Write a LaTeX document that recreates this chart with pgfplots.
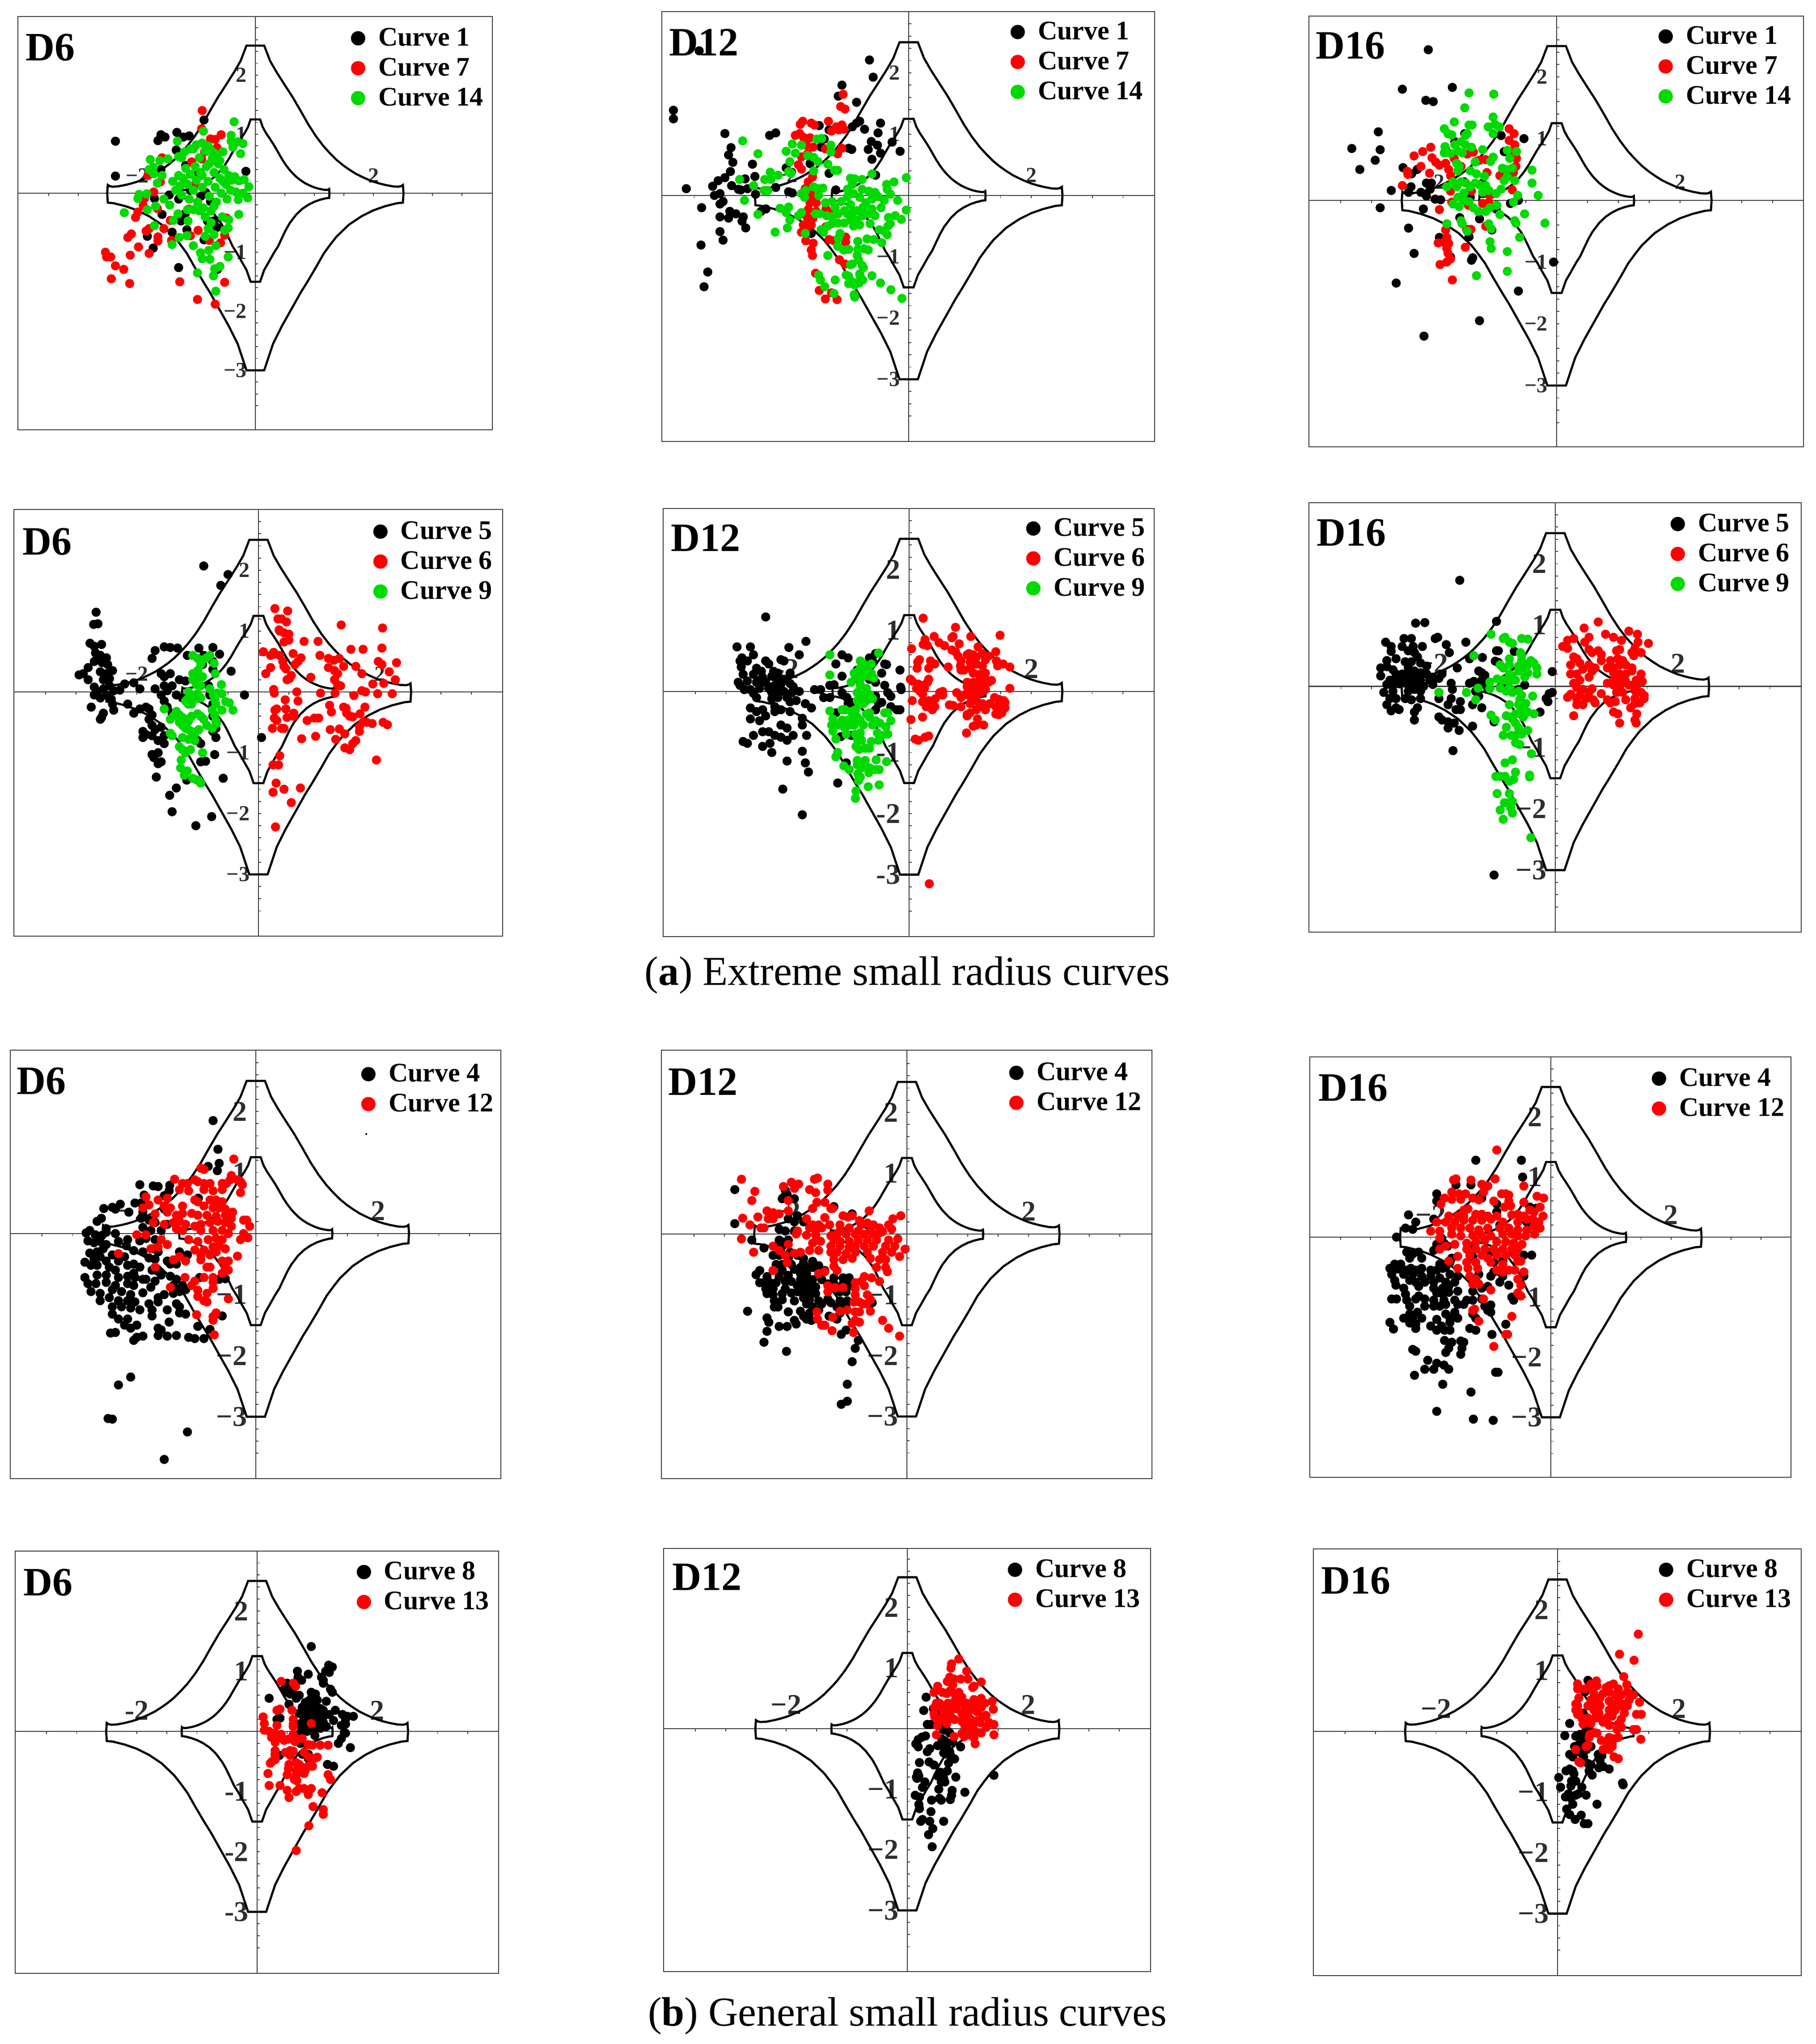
\documentclass[border=0pt]{standalone}
\usepackage{fontspec}
\setmainfont{Liberation Serif}
\usepackage{pgfplots}
\usepackage{pgfplotstable}
\pgfplotsset{compat=1.18}

\definecolor{cgreen}{RGB}{0,218,0}
\definecolor{cred}{RGB}{255,0,0}
\definecolor{caxis}{RGB}{60,60,60}

% right half of the two boundary curves, mirrored for the left half
\pgfplotstableread{
0 2.5
0.15 2.5
0.25 2.24
0.36 2.05
0.5 1.83
0.63 1.63
0.77 1.39
0.9 1.16
1.03 0.96
1.16 0.79
1.27 0.67
1.38 0.56
1.49 0.47
1.59 0.40
1.7 0.33
1.8 0.28
1.9 0.235
2 0.195
2.1 0.165
2.2 0.14
2.33 0.115
2.42 0.11
2.47 0.12
2.5 0.14
2.51 0
2.5 -0.16
2.4 -0.17
2.2 -0.22
2 -0.29
1.8 -0.39
1.59 -0.53
1.38 -0.73
1.27 -0.87
1.16 -1.02
1.03 -1.25
0.87 -1.52
0.77 -1.68
0.63 -1.93
0.45 -2.25
0.3 -2.55
0.15 -3
0 -3
}\outercurve
\pgfplotstableread{
0 1.25
0.08 1.25
0.125 1.12
0.18 1.02
0.25 0.915
0.315 0.815
0.385 0.695
0.45 0.58
0.515 0.48
0.58 0.395
0.635 0.335
0.69 0.28
0.745 0.235
0.795 0.2
0.85 0.165
0.9 0.14
0.95 0.118
1 0.098
1.05 0.082
1.1 0.07
1.165 0.058
1.21 0.055
1.235 0.06
1.25 0.07
1.255 0
1.25 -0.08
1.2 -0.085
1.1 -0.11
1 -0.145
0.9 -0.195
0.795 -0.265
0.69 -0.365
0.58 -0.51
0.515 -0.625
0.45 -0.76
0.385 -0.9
0.315 -1.01
0.225 -1.17
0.15 -1.3
0.08 -1.5
0 -1.5
}\innercurve

\tikzset{tl/.style={inner sep=0pt,text=black!82,font=\fontsize{#1}{#1}\selectfont\bfseries}}

\pgfplotsset{
  bk/.style={only marks,mark=*,mark size=2.35pt,color=black},
  rd/.style={only marks,mark=*,mark size=2.35pt,color=cred},
  gr/.style={only marks,mark=*,mark size=2.35pt,color=cgreen},
  dotlegend/.style={legend image code/.code={\fill[##1] (0pt,0pt) circle (3.8pt);}},
  % left, top, right, bottom, centre x, centre y, pixels per unit (reference pixels)
  panel/.code n args={7}{%
    \pgfmathsetmacro\pxa{(#1-#5)/#7}%
    \pgfmathsetmacro\pxb{(#3-#5)/#7}%
    \pgfmathsetmacro\pya{(#6-#4)/#7}%
    \pgfmathsetmacro\pyb{(#6-#2)/#7}%
    \pgfmathsetmacro\pw{(#3-#1)*0.25}%
    \pgfmathsetmacro\ph{(#4-#2)*0.25}%
    \pgfmathsetmacro\pl{#1*0.25}%
    \pgfmathsetmacro\pb{(4570-#4)*0.25}%
    \edef\tmp{\noexpand\pgfplotsset{xmin=\pxa,xmax=\pxb,ymin=\pya,ymax=\pyb,
      width=\pw pt,height=\ph pt,at={(\pl pt,\pb pt)}}}\tmp
    \gdef\pL{#1}\gdef\pT{#2}\gdef\pR{#3}\gdef\pB{#4}%
  },
  % legend marker centre x, top of the first row
  lg/.code 2 args={%
    \pgfmathsetmacro\lx{(#1-21-\pL)/(\pR-\pL)}%
    \pgfmathsetmacro\ly{(\pB-#2)/(\pB-\pT)}%
    \edef\tmp{\noexpand\pgfplotsset{legend style={at={(\lx,\ly)},anchor=north west}}}\tmp
  },
  every axis/.append style={
    scale only axis,anchor=south west,clip=false,
    axis lines=center,axis line style={-,color=caxis,line width=0.55pt},
    xlabel={},ylabel={},
    xtick={-3.5,-3,-2.5,-2,-1.5,-1,-0.5,0.5,1,1.5,2,2.5,3,3.5},
    ytick={-3.6,-3.4,-3.2,-3,-2.8,-2.6,-2.4,-2.2,-2,-1.8,-1.6,-1.4,-1.2,-1,-0.8,-0.6,-0.4,-0.2,0.2,0.4,0.6,0.8,1,1.2,1.4,1.6,1.8,2,2.2,2.4,2.6,2.8},
    xticklabels={},yticklabels={},
    major tick length=1.6pt,
    tick style={color=caxis,line width=0.45pt},
    xtick style={yshift=-0.8pt},ytick style={xshift=0.8pt},
    dotlegend,
    legend cell align=left,
    legend style={draw=none,fill=none,inner sep=0pt,row sep=5.3pt,column sep=7.3pt,
      nodes={inner sep=0pt},font=\fontsize{15}{15}\selectfont\bfseries},
  },
}

% frame, tick labels and boundary curves: label size, minus sign, height of the x labels
\newcommand{\base}[3]{%
  \draw[color=caxis,line width=0.7pt] (rel axis cs:0,0) rectangle (rel axis cs:1,1);
  \node[tl=#1,anchor=east] at (axis cs:-0.14,2) {2};
  \node[tl=#1,anchor=east] at (axis cs:-0.14,1) {1};
  \node[tl=#1,anchor=east] at (axis cs:-0.14,-1) {#21};
  \node[tl=#1,anchor=east] at (axis cs:-0.14,-2) {#22};
  \node[tl=#1,anchor=east] at (axis cs:-0.14,-3) {#23};
  \node[tl=#1] at (axis cs:2,#3) {2};
  \node[tl=#1] at (axis cs:-2,#3) {#22};
  \addplot[forget plot,black,line width=1.2pt] table[x index=0,y index=1] {\outercurve};
  \addplot[forget plot,black,line width=1.2pt] table[x expr=-\thisrowno{0},y index=1] {\outercurve};
  \addplot[forget plot,black,line width=1.2pt] table[x index=0,y index=1] {\innercurve};
  \addplot[forget plot,black,line width=1.2pt] table[x expr=-\thisrowno{0},y index=1] {\innercurve};
}
\newcommand{\ttl}[3]{\node[anchor=north west,inner sep=0pt,font=\fontsize{22.5}{22.5}\selectfont\bfseries] at ({#1*0.25pt},{(4570-#2)*0.25pt}) {#3};}

\begin{document}
\begin{tikzpicture}
\path[use as bounding box] (0pt,0pt) rectangle (1015pt,1142.5pt);

% row 1
\begin{axis}[panel={40}{37}{1101}{961}{571}{432}{132},lg={805}{62}]
\base{12}{−}{0.3}
\addplot[bk] coordinates {(-2.37,.88)(-2.37,.29)(-1.65,.89)(-1.6,.99)(-1.53,.95)(-1.33,1.03)(-1.22,.95)(-1.12,.97)(-.87,1.24)(-1.34,.73)(-.16,.37)(-1.83,-.73)(-1.73,-.93)(-1.58,-.36)(-1.71,-.09)(-1.46,-.03)(-1.26,-.47)(-1.41,-.66)(-1.16,-.62)(-1.3,-1.26)(-.64,-1.29)(-.87,-.79)(-.7,-.47)(-.65,-.58)(-.81,-.47)(-1.19,-.35)(-.97,.33)(-.84,.01)(-1.1,.05)(-1.18,.47)(-.92,-.05)(-.76,-.14)(-1.6,.4)(-1.3,-.1)};
\addplot[rd] coordinates {(-.9,1.4)(-.58,.99)(-.68,.91)(-.76,.92)(-.91,1.09)(-1.58,.6)(-1.82,.3)(-1.72,.02)(-1.88,-.09)(-1.9,-.21)(-1.99,-.32)(-2.03,-.41)(-1.44,-.46)(-1.55,-.6)(-1.8,-.6)(-1.85,-.64)(-1.65,-.74)(-1.65,-.81)(-1.42,-.8)(-2.1,-.69)(-2.16,-.75)(-1.98,-.91)(-1.8,-1.02)(-2.12,-1.05)(-2.54,-1)(-2.52,-1.08)(-2.45,-1.08)(-2.37,-1.23)(-2.23,-1.29)(-2.44,-1.45)(-2.13,-1.53)(-1.28,-1.5)(-.52,-1.51)(-.98,-1.8)(-.68,-1.88)(-.97,-.63)(-1.1,-.72)(-.78,-.8)(-.59,-.84)(-.52,-.71)(-1.13,-.27)(-1.66,-.26)(-1.61,.19)(-1.08,.53)(-.91,.58)(-.65,.77)(-1.02,.14)(-.86,.7)(-.49,-.42)};
\addplot[gr] coordinates {(-.36,1.21)(-.88,1.05)(-.41,.98)(-1.32,.88)(-.21,.84)(-.25,.67)(-.3,.87)(-.41,.88)(-1.78,.57)(-1.48,.58)(-1.62,.55)(-1.73,.44)(-1.8,.4)(-1.72,.33)(-1.58,.3)(-1.66,.17)(-1.84,-.01)(-1.97,-.02)(-1.99,-.09)(-2.22,-.33)(-1.83,-.28)(-1.69,-.22)(-1.45,-.2)(-1.55,-.1)(-1.31,-.35)(-1.39,-.46)(-1.71,-.55)(-1.14,-.47)(-1.41,-.87)(-1.29,-.75)(-1.16,-.72)(-1.05,-.89)(-.93,-1.01)(-.9,-1.11)(-.79,-.97)(-.77,-1.12)(-.46,-1.08)(-.6,-1.24)(-.69,-1.28)(-.71,-1.4)(-.98,-1.35)(-.67,-1.66)(-.67,-.89)(-.85,-.73)(-.7,-.7)(-.52,-.63)(-.46,-.59)(-.45,-.45)(-.56,-.4)(-.28,-.36)(-.13,-.08)(-.29,-.11)(-.21,0)(-.11,.11)(-.19,.23)(-.28,.21)(-1.4,.2)(-1.35,.05)(-1.3,.3)(-1.28,.12)(-1.25,-.03)(-1.22,.25)(-1.18,.42)(-1.15,.15)(-1.12,-.1)(-1.1,.32)(-1.05,.05)(-1.02,.45)(-1,.22)(-.98,-.15)(-.95,.6)(-.93,.35)(-.9,.1)(-.88,-.25)(-.85,.72)(-.83,.45)(-.8,.2)(-.78,-.05)(-.75,-.3)(-.73,.6)(-.7,.35)(-.68,.1)(-.66,-.15)(-.63,.5)(-.6,.25)(-.58,0)(-.55,.7)(-.53,.4)(-.5,.15)(-.48,-.1)(-.45,.3)(-.42,.05)(-.4,.22)(-.38,.78)(-.35,.28)(-.33,.02)(-1.2,.7)(-1.1,.75)(-1,.82)(-.9,.85)(-.8,.8)(-.7,.68)(-.6,.55)(-1.3,.62)(-1.25,.6)(-.75,.72)(-.95,-.3)(-.85,-.4)(-.75,-.5)(-.7,-.22)(-.8,-.6)(-1.05,-.28)(-1.15,-.28)(-1.05,.75)(-.65,.6)(-.55,.2)(-.78,.5)(-.9,.3)};
\legend{Curve 1,Curve 7,Curve 14}
\end{axis}
\ttl{57}{75}{D6}

\begin{axis}[panel={1480}{26}{2582}{987}{2032}{437}{137},lg={2280}{48}]
\base{12}{−}{0.33}
\addplot[bk] coordinates {(-3.42,2.36)(-.64,2.21)(-.58,1.93)(-1.09,1.8)(-1.15,1.62)(-.85,1.52)(-3.84,1.39)(-3.84,1.25)(-.8,1.21)(-.85,1.18)(-.92,1.12)(-.46,1.18)(-.72,1.08)(-.5,1.02)(-1.46,1.14)(-1.3,1.07)(-2.17,1.02)(-2.27,.98)(-3,1.01)(-1.38,.92)(-.61,.88)(-.51,.82)(-.66,.75)(-.46,.69)(-.6,.59)(-.27,.87)(-.14,.72)(-.98,.77)(-.93,.75)(-1.43,.79)(-2.9,.78)(-2.94,.66)(-2.87,.54)(-2.55,.51)(-2.91,.39)(-3,.29)(-3.11,.24)(-3.2,.15)(-2.89,.16)(-2.67,.27)(-2.51,.31)(-3.63,.11)(-3.17,0)(-3.08,.03)(-2.78,.1)(-2.74,.09)(-2.63,.11)(-2.5,.02)(-2.17,.13)(-1.96,.06)(-1.9,.04)(-2,.45)(-1.61,.52)(-1.3,.36)(-.54,.33)(-1.19,.09)(-3.08,-.14)(-3.03,-.1)(-3.38,-.2)(-2.92,-.26)(-2.82,-.3)(-2.7,-.35)(-3.08,-.35)(-2.94,-.37)(-2.72,-.42)(-2.66,-.53)(-3.08,-.59)(-3.03,-.73)(-3.39,-.81)(-3.28,-1.25)(-3.34,-1.49)(-2.41,-.26)(-2.33,-.22)(-1.59,-.62)};
\addplot[rd] coordinates {(-1.07,1.65)(-1.11,1.45)(-1.04,1.41)(-1.73,1.21)(-1.77,1.16)(-1.59,1.18)(-1.54,1.15)(-1.31,1.21)(-1.18,1.12)(-1.09,1.15)(-1.14,1.07)(-1.06,1.08)(-1.26,1.05)(-1.78,1.01)(-1.85,.98)(-1.72,.95)(-1.61,.94)(-1.67,.82)(-1.56,.79)(-1.36,.76)(-1.09,.77)(-1.16,.68)(-1.75,.63)(-1.65,.68)(-1.8,.5)(-1.75,.43)(-1.57,.3)(-1.64,.22)(-1.69,.11)(-1.61,-.12)(-1.51,-.12)(-1.64,-.23)(-1.51,-.26)(-1.56,-.37)(-1.64,-.44)(-1.72,-.48)(-1.59,-.48)(-1.67,-.55)(-1.35,-.51)(-1.3,-.28)(-1.35,-.22)(-1.68,-.74)(-1.56,-.78)(-1.59,-.89)(-1.57,-.98)(-1.3,-.72)(-1.22,-.74)(-1.03,-.76)(-1.03,-.68)(-1.13,-1.05)(-1.04,-1.12)(-1.52,-1.27)(-1.46,-1.55)(-1.36,-1.69)(-1.26,-1.59)(-1.17,-1.7)(-1.7,.02)(-1.6,.03)(-1.55,-.05)(-1.75,-.6)(-1.66,-.35)};
\addplot[gr] coordinates {(-2.71,.89)(-2.46,.68)(-2,.72)(-1.9,.84)(-1.75,.82)(-1.85,.69)(-1.94,.55)(-1.65,.65)(-1.55,.62)(-1.48,.55)(-1.5,.92)(-1.42,.93)(-1.27,.82)(-1.27,.71)(-1.32,.51)(-1.21,.41)(-1.16,.41)(-1.55,.4)(-1.96,.39)(-1.92,.36)(-2.26,.38)(-2.13,.33)(-2.25,.26)(-2.35,.26)(-2.76,.26)(-2.53,.16)(-2.36,.08)(-2.3,.08)(-2.68,-.08)(-2.46,-.31)(-2.1,-.21)(-2,-.28)(-1.94,-.4)(-2.18,-.6)(-1.98,-.53)(-1.96,-.19)(-1.8,-.33)(-1.75,-.28)(-1.7,-.03)(-1.75,.03)(-1.68,.08)(-1.55,.14)(-1.48,.11)(-1.4,.12)(-1.47,.0)(-1.36,-.12)(-1.52,-.3)(-1.45,-.3)(-1.69,-.62)(-1.43,-.56)(-1.39,-.6)(-1.32,-.5)(-1.34,-.33)(-.6,.35)(-.76,.26)(-.88,.27)(-.95,.28)(-.92,.18)(-1,.1)(-.76,.1)(-.65,.07)(-.36,.18)(-.24,.22)(-.04,.29)(-.35,.1)(-.3,.02)(-.18,-.08)(-.04,-.24)(-.12,-.39)(-.22,-.33)(-.33,-.36)(-.3,-.46)(-.34,-.5)(-.4,-.58)(-.35,-.64)(-.48,-.56)(-.63,-.46)(-.55,-.33)(-.6,-.22)(-.45,-.2)(-.4,-.08)(-.5,-.02)(-.55,.05)(-.6,-.06)(-.7,-.12)(-.8,-.03)(-.9,.03)(-1,-.02)(-1.1,-.1)(-1.2,-.2)(-1.25,-.1)(-1.15,-.3)(-1.05,-.25)(-.95,-.15)(-.85,-.25)(-.75,-.2)(-.85,-.4)(-.95,-.4)(-1.05,-.45)(-1.15,-.45)(-1.25,-.35)(-1.25,-.46)(-.9,-.5)(-.8,-.48)(-.75,-.33)(-.65,-.3)(-1,-.3)(-.92,-.28)(-1.12,-.62)(-1.15,-.7)(-.83,-.75)(-.68,-.71)(-.57,-.72)(-.44,-.77)(-1.16,-.83)(-1.06,-.89)(-.98,-.88)(-.83,-.88)(-.73,-.87)(-.66,-.89)(-.84,-.98)(-.82,-1.05)(-1.32,-.98)(-.95,-1.13)(-.92,-1.12)(-.76,-1.14)(-.74,-1.18)(-.8,-1.28)(-1.02,-1.3)(-.98,-1.32)(-.79,-1.33)(-.75,-1.38)(-.6,-1.31)(-.46,-1.43)(-.92,-1.41)(-.88,-1.46)(-.98,-1.44)(-.81,-1.43)(-1.47,-1.3)(-1.44,-1.38)(-1.2,-1.38)(-1.37,-1.49)(-1.22,-1.6)(-.89,-1.62)(-.88,-1.66)(-.29,-1.54)(-.11,-1.68)};
\legend{Curve 1,Curve 7,Curve 14}
\end{axis}
\ttl{1496}{64}{D12}

\begin{axis}[panel={2927}{36}{4033}{999}{3481}{448}{138},lg={3729}{58}]
\base{12}{−}{0.3}
\addplot[bk] coordinates {(-2.08,2.44)(-2.5,1.8)(-1.69,1.83)(-2.12,1.62)(-2,1.6)(-2.89,1.11)(-3.32,.84)(-2.86,.82)(-2.94,.65)(-3.19,.5)(-2.49,.53)(-2.26,.5)(-2.35,.43)(-2.03,.28)(-2.11,.28)(-2.05,.18)(-2.36,.22)(-2.68,.16)(-2.4,.13)(-2.2,.13)(-2.11,.07)(-1.97,.02)(-1.88,.01)(-2.86,-.12)(-2.16,-.14)(-2.4,-.45)(-2.31,-.86)(-2.6,-1.34)(-2.15,-2.2)(-1.25,-1.95)(-.62,-1.47)(-.05,-1)(-1.38,-.97)(-1.36,-.93)(-1.72,-.92)(-1.42,-.59)(-1.9,-.6)(-1.05,-.48)(-1.25,-.3)(-1.57,-.28)(-.98,-.14)(-.75,-.05)(-.62,0)(-1.49,1.08)(-.9,1.05)(-.53,1)(-.85,.79)(-1.3,.63)(-1.5,.3)(-1.2,.28)(-1.4,.05)(-1.65,.95)};
\addplot[rd] coordinates {(-.77,1.16)(-.69,1.08)(-.77,.97)(-.68,.9)(-.72,.78)(-.65,.68)(-.66,.55)(-.7,.45)(-.92,.4)(-1.13,.45)(-2.31,.72)(-2.17,.79)(-2.04,.86)(-1.8,.84)(-2.02,.69)(-1.96,.62)(-1.9,.57)(-2.2,.55)(-2.42,.47)(-2.41,.42)(-2.06,.44)(-2.5,.24)(-1.8,.6)(-1.75,.5)(-1.72,.4)(-1.66,.68)(-1.55,.55)(-1.45,.75)(-1.35,.78)(-1.25,.65)(-1.15,.66)(-1.72,.15)(-1.38,.15)(-1.1,.1)(-.72,.17)(-1.9,-.15)(-1.8,-.48)(-1.78,-.6)(-1.83,-.68)(-1.75,-.7)(-1.92,-.69)(-1.78,-.78)(-1.76,-.86)(-1.72,-.95)(-1.78,-1)(-1.89,-1.04)(-1.69,-1.29)(-1.48,-.76)(-1.46,-.47)(-1.39,-.47)(-1.15,-.42)(-1.2,-.05)(-1.43,-.08)(-1.7,-.03)(-1.1,-.03)(-1.05,.1)};
\addplot[gr] coordinates {(-1.42,1.74)(-1.02,1.72)(-1.49,1.5)(-1.03,1.35)(-1.66,1.27)(-1.42,1.22)(-1.37,1.22)(-1.11,1.19)(-1,1.23)(-.93,1.19)(-1.82,1.16)(-1.03,1.08)(-1.76,1.08)(-1.7,1.06)(-1.45,1.08)(-1.48,1.05)(-1.65,.9)(-1.55,.95)(-1.48,.9)(-1.38,.86)(-1.81,.87)(-1.82,.77)(-1.72,.76)(-1.6,.8)(-1.53,.77)(-1.2,.82)(-.8,.81)(-.65,.79)(-.76,.68)(-1.03,.7)(-1.07,.63)(-1.32,.62)(-1.62,.6)(-1.58,.55)(-1.6,.48)(-.88,.52)(-.82,.5)(-.72,.52)(-.4,.49)(-1.4,.48)(-1.3,.43)(-1.17,.39)(-.8,.38)(-.85,.32)(-.68,.32)(-.4,.28)(-.3,.08)(-.63,.08)(-1.78,.22)(-1.68,.3)(-1.62,.22)(-1.55,.3)(-1.47,.28)(-1.4,.22)(-1.32,.28)(-1.25,.25)(-1.15,.24)(-1.1,.16)(-1.2,.13)(-.98,.11)(-.9,.18)(-1.5,.12)(-1.6,.05)(-1.5,0)(-1.42,-.02)(-1.68,-.06)(-1.58,-.1)(-1.35,-.12)(-1.27,-.18)(-1.15,-.18)(-1.08,-.12)(-.97,-.08)(-.92,-.23)(-.7,-.03)(-.68,-.33)(-.66,-.37)(-.52,-.22)(-.19,-.37)(-1.55,-.33)(-1.53,-.38)(-1.78,-.38)(-1.45,-.5)(-1.1,-.38)(-1.06,-.46)(-.6,-.6)(-1.08,-.67)(-1.06,-.78)(-.8,-.83)(-.8,-1.15)(-1.3,-1.22)};
\legend{Curve 1,Curve 7,Curve 14}
\end{axis}
\ttl{2942}{71}{D16}

% row 2
\begin{axis}[panel={31}{1139}{1124}{2093}{578}{1547}{136},lg={855}{1165}]
\base{12}{−}{0.3}
\addplot[bk] coordinates {(-.9,2.07)(-.5,1.93)(-.62,1.75)(-2.67,1.31)(-2.71,1.11)(-2.64,1.12)(-2.77,.8)(-2.7,.75)(-2.58,.78)(-2.68,.64)(-2.6,.6)(-2.5,.56)(-2.8,.4)(-2.7,.5)(-2.57,.48)(-2.48,.45)(-2.6,.33)(-2.5,.3)(-2.4,.35)(-2.55,.2)(-2.45,.22)(-2.95,.28)(-2.88,.3)(-2.8,.2)(-2.7,.08)(-2.65,0)(-2.55,.05)(-2.45,.1)(-2.38,.02)(-2.28,.03)(-2.2,.13)(-2.05,.15)(-1.95,.05)(-2.7,-.05)(-2.6,-.1)(-2.5,-.05)(-2.42,-.12)(-2.4,-.2)(-2.38,-.3)(-2.75,-.25)(-2.55,-.35)(-2.58,-.42)(-2.6,-.45)(-2.15,-.2)(-2.05,-.35)(-1.95,-.28)(-1.85,-.25)(-1.8,-.28)(-1.75,-.38)(-1.9,-.65)(-1.85,-.7)(-1.9,-.75)(-1.8,-.45)(-1.75,-.55)(-1.7,-.62)(-1.75,-.72)(-1.6,-.58)(-1.55,-.72)(-1.65,-.8)(-1.55,-.85)(-1.65,-1)(-1.75,-1.03)(-1.72,-1.08)(-1.65,-1.18)(-1.6,-1.15)(-1.68,-1.4)(-1.35,-1.58)(-1.46,-1.7)(-1.42,-1.97)(-1.03,-2.2)(-.77,-2.05)(-1.18,-1.45)(-1,-1.45)(-.58,-1.42)(-.72,-1.03)(-.95,-1.15)(-.87,-1.14)(-.95,-.85)(-1,-.8)(-.7,-.75)(-.7,-.6)(-.75,-.65)(-.75,-.4)(-.75,-.2)(-.8,-.05)(-.82,.1)(-.75,.37)(-.75,.5)(-.64,.62)(-.45,.34)(-1.7,.68)(-1.55,.74)(-1.45,.73)(-1.33,.72)(-1.17,.6)(-.98,.72)(-.9,.6)(-.75,.73)(-.92,.45)(-1.75,.55)(-1.6,.3)(-1.55,.25)(-1.45,.3)(-1.3,.2)(-1.2,.18)(-1.55,.1)(-1.7,.05)(-1.6,-.05)(-1.5,.02)(-1.42,.1)(-1.35,-.05)(-1.25,-.1)(-1.15,-.2)(-1.42,-.35)(-1.5,-.25)(-1.55,-.15)(-.23,-.05)(.05,-.75)};
\addplot[rd] coordinates {(.27,1.37)(.48,1.33)(.32,1.2)(.38,1.2)(.46,1.15)(.35,1)(.34,1.02)(.42,.97)(.5,.95)(.5,.85)(.42,.82)(1.36,1.1)(2.04,1.05)(.75,.83)(.98,.83)(1.52,.7)(1.72,.7)(2.03,.72)(.25,.65)(.27,.62)(.35,.6)(.57,.63)(.7,.56)(1.01,.6)(1.15,.55)(1.24,.52)(1.33,.55)(1.97,.5)(2.03,.45)(2.27,.48)(.2,.4)(.12,.3)(.2,.6)(.08,.66)(.4,.5)(.42,.42)(.45,.38)(.6,.45)(.65,.5)(1.15,.4)(1.25,.35)(1.3,.3)(1.4,.42)(1.6,.42)(1.7,.3)(2.15,.33)(.51,.22)(.47,.2)(.54,.27)(.86,.24)(1.25,.2)(1.3,.12)(1.35,.1)(2.25,.2)(2.06,.14)(1.88,.13)(.25,.04)(.26,-.02)(.63,0)(1.02,-.02)(1.26,-.02)(1.57,-.06)(1.76,0)(1.7,.02)(1.96,-.03)(2.2,-.03)(.3,-.28)(.27,-.3)(.26,-.43)(.3,-.47)(.44,-.13)(.65,-.15)(.45,-.28)(.58,-.35)(.58,-.4)(.47,-.42)(.8,-.47)(.92,-.43)(.99,-.43)(1.17,-.22)(1.2,-.33)(1.4,-.25)(1.45,-.35)(1.44,-.27)(1.55,-.41)(1.5,-.4)(1.67,-.36)(1.75,-.25)(1.87,-.52)(1.78,-.5)(1.72,-.5)(1.66,-.57)(2.05,-.5)(2.12,-.54)(.23,-.6)(.38,-.6)(.42,-.6)(.71,-.77)(.94,-.73)(1.18,-.62)(1.33,-.61)(1.66,-.65)(1.42,-.92)(1.5,-.95)(1.42,-.69)(1.27,-.78)(1.6,-.8)(1.55,-.85)(.35,-1.05)(.33,-1.2)(.24,-1.2)(.29,-1.5)(.24,-1.65)(.42,-1.6)(.69,-1.58)(.54,-1.82)(.28,-2.22)(1.94,-1.12)};
\addplot[gr] coordinates {(-1.08,.6)(-1,.55)(-.8,.6)(-.87,.55)(-.73,.47)(-.71,.3)(-.61,.12)(-.54,-.16)(-.42,-.3)(-.95,.45)(-1,.35)(-1.08,.3)(-1.08,.2)(-1,.2)(-.92,.25)(-1.02,.12)(-.95,.1)(-.8,.05)(-.74,-.05)(-.68,-.02)(-.72,-.12)(-.7,-.2)(-.76,-.3)(-.72,-.38)(-.7,-.48)(-.69,-.52)(-.76,-.6)(-1.15,0)(-1.1,-.05)(-1.15,-.1)(-1.05,-.12)(-1,-.03)(-.95,-.1)(-1.2,-.15)(-1.15,-.2)(-1.1,-.2)(-1.55,-.28)(-1.45,-.45)(-1.4,-.4)(-1.35,-.32)(-1.3,-.38)(-1.25,-.42)(-1.2,-.45)(-1.15,-.48)(-1.1,-.4)(-1,-.36)(-.95,-.4)(-.9,-.45)(-.85,-.55)(-1.3,-.5)(-1.25,-.55)(-1.2,-.6)(-1.15,-.62)(-1.1,-.65)(-1.05,-.7)(-.98,-.62)(-1.45,-.68)(-1.42,-.72)(-1.25,-.75)(-1.15,-.78)(-1.05,-.8)(-1.3,-.9)(-1.25,-.95)(-1.2,-1)(-1.12,-.95)(-.92,-1)(-1.27,-1.12)(-1.28,-1.25)(-1.17,-1.3)(-1.22,-1.37)(-1.08,-1.42)(-.99,-1.45)(-.95,-1.5)(-.48,-.18)(-.6,-.3)(-.6,-.03)};
\legend{Curve 5,Curve 6,Curve 9}
\end{axis}
\ttl{50}{1180}{D6}

\begin{axis}[panel={1483}{1137}{2581}{2094}{2033}{1546}{136.5},lg={2315}{1158}]
\base{16}{-}{0.37}
\addplot[bk] coordinates {(-2.35,1.22)(-1.69,.82)(-1.97,.72)(-2.82,.73)(-2.6,.73)(-2.55,.6)(-1.8,.6)(-2.74,.55)(-2.77,.5)(-2.65,.5)(-2.35,.5)(-2.3,.45)(-2.1,.52)(-2.05,.5)(-1.95,.3)(-2.75,.4)(-2.5,.38)(-2.42,.33)(-2.22,.33)(-2.15,.3)(-2.72,.28)(-2.55,.28)(-2.4,.23)(-2.25,.25)(-2.18,.22)(-2.8,.15)(-2.77,.1)(-2.65,.17)(-2.5,.15)(-2.45,.18)(-2.35,.15)(-2.2,.1)(-2.1,.12)(-2.05,.2)(-1.95,.13)(-1.9,.08)(-2.7,.03)(-2.6,.03)(-2.55,-.03)(-2.45,.05)(-2.3,.05)(-2.25,-.02)(-2.15,.02)(-2.05,0)(-1.92,-.02)(-1.8,0)(-2.5,-.1)(-2.25,-.12)(-2.15,-.1)(-2,-.1)(-1.95,-.17)(-1.85,-.15)(-1.7,-.2)(-1.6,-.27)(-2.6,-.27)(-2.5,-.33)(-2.4,-.3)(-2.2,-.25)(-2.1,-.3)(-1.95,-.33)(-2.35,-.4)(-2.2,-.33)(-2.6,-.45)(-2.45,-.48)(-1.75,-.44)(-2.1,-.55)(-2,-.6)(-1.75,-.55)(-1.68,-.72)(-2.55,-.72)(-2.4,-.66)(-2.3,-.66)(-2.2,-.72)(-2.1,-.75)(-2,-.8)(-1.9,-.72)(-2.72,-.82)(-2.65,-.85)(-2.4,-.9)(-2.28,-.85)(-2.25,-1)(-1.75,-.98)(-1.7,-1.17)(-2,-1.14)(-1.65,-1.32)(-2.07,-1.6)(-1.75,-2.02)(-1.17,-1.5)(-1.03,-1.17)(-1.12,-.74)(-.95,-.72)(-1.2,-.35)(-1,-.2)(-1.23,.11)(-1.3,.1)(-.55,.62)(-.65,.55)(-1.1,.6)(-.6,.5)(-.4,.45)(-.37,.44)(-1,.55)(-1.2,.45)(-1.1,.25)(-.85,.35)(-.45,.3)(-.15,.35)(-.4,.1)(-.55,.15)(-.65,.2)(-.14,.07)(-.13,.03)(-.35,-.02)(-.3,-.08)(-.55,-.08)(-.45,-.18)(-.3,-.25)(-.55,-.3)(-.5,-.2)(-.2,-.3)(-.15,-.3)(-1.1,-.02)(-1.02,-.1)(-.95,-.18)(-1.3,-.1)(-1.45,.03)(-1.55,.03)(-1.4,-.1)};
\addplot[rd] coordinates {(.23,1.2)(.76,1.05)(.72,.9)(1.01,.9)(1.49,.92)(.41,.9)(.7,.88)(.26,.85)(.82,.78)(.23,.77)(.3,.75)(.49,.8)(.58,.75)(.04,.7)(.7,.68)(.76,.65)(1.13,.73)(1.42,.65)(.8,.58)(.95,.6)(.98,.62)(1.05,.6)(1.2,.62)(1.1,.56)(.85,.5)(1.3,.58)(1.25,.52)(1.43,.5)(1.54,.45)(.17,.52)(.14,.48)(.35,.5)(.42,.45)(.84,.42)(1,.48)(1.1,.45)(1.2,.42)(1.45,.42)(1.65,.4)(.13,.38)(.32,.38)(.64,.4)(.85,.35)(.9,.35)(1,.38)(1.05,.3)(1.15,.28)(1.25,.3)(.32,.2)(.3,.15)(.05,.17)(.02,.2)(.15,.12)(.2,.1)(.95,.15)(1.05,.15)(1.15,.18)(1.25,.2)(1.3,.15)(1.35,.18)(.25,.05)(.12,.05)(.55,.0)(.18,0)(.22,-.04)(.55,-.06)(.43,-.12)(.5,-.02)(.78,-.02)(1,.05)(1.1,.07)(1.2,.1)(.95,.08)(.85,-.1)(.92,-.05)(1,-.08)(1.1,-.05)(1.17,-.02)(1.25,.03)(1.65,.05)(.05,-.15)(.22,-.17)(.32,-.15)(.28,-.25)(.42,-.25)(.38,-.3)(.66,-.22)(.72,-.23)(.85,-.25)(1,-.2)(1.1,-.15)(1.2,-.2)(1.15,-.25)(1.32,-.2)(1.4,-.1)(1.47,-.13)(1.5,-.2)(1.42,-.25)(1.55,-.15)(1.57,-.18)(1.57,-.27)(.95,-.4)(1,-.35)(1.1,-.3)(1.25,-.3)(1.42,-.37)(1.5,-.33)(1.52,-.35)(1.47,-.38)(.03,-.46)(.22,-.42)(.95,-.38)(1.12,-.45)(1.1,-.55)(1.05,-.57)(1.22,-.55)(.94,-.68)(.26,-.75)(.1,-.78)(.15,-.8)(.32,-.73)(.33,-3.15)};
\addplot[gr] coordinates {(-1.3,.6)(-.5,.63)(-.8,.5)(-.75,.45)(-.62,.45)(-.68,.42)(-.8,.38)(-.9,.3)(-.7,.35)(-.62,.3)(-.85,.32)(-.75,.25)(-.65,.25)(-1.3,.27)(-.88,.22)(-.8,.2)(-.58,.22)(-.95,.15)(-.8,.1)(-.7,.05)(-.85,-.02)(-.8,-.05)(-.7,-.02)(-.65,-.05)(-.75,-.1)(-.85,-.15)(-.7,-.15)(-.6,-.12)(-.82,-.22)(-.75,-.2)(-1.3,-.32)(-1.1,-.3)(-1.05,-.3)(-.95,-.33)(-.88,-.3)(-.7,-.37)(-.65,-.35)(-.4,-.35)(-.35,-.35)(-1.25,-.45)(-1.1,-.47)(-1,-.47)(-.95,-.47)(-.85,-.42)(-.8,-.48)(-.65,-.42)(-.55,-.48)(-.3,-.48)(-1.27,-.55)(-1.15,-.55)(-1.05,-.6)(-.98,-.55)(-.9,-.55)(-.75,-.55)(-.6,-.55)(-.48,-.52)(-.38,-.58)(-1.25,-.65)(-1.03,-.7)(-.88,-.7)(-.8,-.68)(-.52,-.68)(-.45,-.72)(-.35,-.7)(-1.2,-.78)(-.85,-.78)(-.78,-.8)(-.62,-.82)(-.5,-.8)(-.87,-.9)(-.82,-.95)(-.72,-.93)(-.65,-.93)(-1.17,-1)(-1.2,-1.07)(-.85,-1.13)(-.72,-1.13)(-.54,-1.12)(-.37,-1.15)(-.85,-1.2)(-.78,-1.25)(-.65,-1.25)(-.55,-1.28)(-.49,-1.28)(-1.07,-1.22)(-.98,-1.28)(-.84,-1.35)(-.8,-1.4)(-.66,-1.33)(-.83,-1.46)(-.67,-1.56)(-.49,-1.53)(-.87,-1.63)(-.88,-1.75)};
\legend{Curve 5,Curve 6,Curve 9}
\end{axis}
\ttl{1500}{1172}{D12}

\begin{axis}[panel={2927}{1124}{4028}{2084}{3478}{1534.5}{137},lg={3756}{1148}]
\base{16}{−}{0.37}
\addplot[bk] coordinates {(-1.56,1.73)(-2.28,1.03)(-2.13,1.04)(-.96,1.06)(-2.47,.78)(-2.35,.78)(-1.96,.78)(-1.92,.8)(-2.77,.72)(-2.68,.65)(-2.5,.65)(-2.32,.65)(-2.17,.65)(-1.78,.68)(-1.46,.72)(-.93,.58)(-.96,.58)(-.67,.57)(-2.68,.57)(-2.4,.58)(-1.73,.55)(-2.3,.55)(-2.75,.42)(-2.6,.45)(-2.25,.48)(-1.19,.47)(-.98,.41)(-.93,.39)(-1.4,.45)(-2.85,.3)(-2.75,.32)(-2.65,.27)(-2.45,.4)(-2.35,.4)(-2.2,.38)(-2.1,.33)(-1.6,.3)(-1.25,.25)(-1.2,.22)(-2.85,.17)(-2.6,.2)(-2.5,.2)(-2.4,.3)(-2.3,.25)(-2.2,.22)(-2.1,.2)(-2,.15)(-1.85,.2)(-2.7,.1)(-2.6,.12)(-2.5,.12)(-2.4,.18)(-2.3,.12)(-2.2,.1)(-2.05,.1)(-1.9,.13)(-1.7,.05)(-1.33,.08)(-1.2,.1)(-1.15,.18)(-.05,.24)(-2.75,.03)(-2.65,.02)(-2.55,.04)(-2.45,.05)(-2.35,.05)(-2.25,.03)(-2.15,0)(-2,.03)(-1.4,.05)(-1.2,.03)(-.82,.02)(-.5,.02)(-2.8,-.1)(-2.65,-.08)(-2.4,-.08)(-2.3,-.05)(-2.2,-.08)(-1.9,-.1)(-1.68,-.05)(-1.3,-.08)(-1.1,-.05)(-.9,-.02)(-.6,-.05)(-.05,-.1)(-.1,-.12)(-2.7,-.2)(-2.6,-.2)(-2.45,-.2)(-2.35,-.22)(-2.2,-.2)(-1.9,-.2)(-1.7,-.2)(-1.25,-.16)(-.15,-.2)(-.12,-.25)(-2.75,-.3)(-2.6,-.35)(-2.55,-.38)(-2.25,-.35)(-1.75,-.3)(-1.55,-.25)(-1.35,-.3)(-2.68,-.4)(-2.3,-.42)(-1.62,-.38)(-1.55,-.38)(-1.2,-.35)(-.25,-.42)(-2.3,-.55)(-1.9,-.5)(-1.85,-.55)(-1.75,-.58)(-1.65,-.6)(-1.35,-.65)(-1,-.58)(-1.75,-.68)(-1.57,-.72)(-1.67,-1.05)(-1,-3.08)};
\addplot[rd] coordinates {(.7,1.05)(.47,.95)(.82,.85)(1.2,.9)(1.34,.85)(.55,.8)(.95,.8)(1.08,.75)(1.35,.72)(1.52,.7)(.2,.75)(.3,.78)(.48,.72)(1.05,.6)(1.25,.55)(.12,.65)(.2,.62)(.55,.6)(.6,.55)(.7,.58)(.75,.52)(1.0,.58)(1.3,.62)(1.4,.55)(.3,.48)(.35,.45)(.75,.42)(.9,.42)(1.02,.45)(1.1,.42)(1.28,.5)(.25,.35)(.4,.38)(.55,.35)(.85,.3)(.95,.3)(1.05,.35)(1.15,.35)(1.25,.3)(.25,.2)(.35,.2)(.45,.28)(.6,.25)(.65,.3)(.95,.22)(1.05,.2)(1.15,.2)(1.25,.25)(1.4,.2)(.3,.05)(.4,.1)(.55,.15)(.95,.1)(1.05,.1)(1.15,.08)(1.32,.1)(1.42,.08)(.35,-.02)(.45,-.05)(.6,-.04)(.85,.05)(.95,.02)(1.05,.0)(1.2,.02)(1.32,-.02)(.25,-.13)(.4,-.15)(.55,-.1)(.75,-.12)(1,-.1)(1.1,-.1)(1.3,-.07)(1.4,-.1)(1.45,-.15)(.2,-.18)(.35,-.2)(.5,-.2)(.62,-.22)(.85,-.22)(1.15,-.22)(1.3,-.2)(1.45,-.2)(.45,-.3)(.35,-.3)(.65,-.27)(.9,-.27)(.98,-.25)(1.3,-.28)(1.38,-.27)(1.23,-.35)(.3,-.48)(.95,-.42)(1.02,-.45)(1.33,-.45)(1.3,-.55)(1.05,-.6)(1.32,-.6)};
\addplot[gr] coordinates {(-1.05,.85)(-.85,.78)(-.82,.8)(-.75,.72)(-.7,.7)(-.55,.78)(-.45,.77)(-.57,.55)(-.55,.5)(-1.33,.5)(-.75,.45)(-.55,.42)(-.4,.42)(-.35,.38)(-.9,.35)(-.85,.3)(-.75,.35)(-.6,.33)(-.55,.3)(-.45,.35)(-.3,.3)(-.75,.2)(-.7,.17)(-.6,.25)(-.45,.22)(-.3,.2)(-1.07,.07)(-.95,.12)(-.85,.1)(-.75,.08)(-.65,.1)(-.5,.15)(-.75,-.02)(-.9,-.03)(-1.07,-.04)(-1.26,-.03)(-1.45,-.1)(-1.9,-.1)(-.8,-.08)(-.7,-.1)(-.6,-.08)(-.55,-.15)(-.37,-.16)(-.58,-.22)(-.48,-.28)(-1.3,-.22)(-.6,-.3)(-.75,-.3)(-.55,-.38)(-.45,-.42)(-.35,-.45)(-.52,-.5)(-.65,-.45)(-.8,-.48)(-.72,-.5)(-.7,-.53)(-.65,-.6)(-.8,-.67)(-.6,-.68)(-.58,-.72)(-.45,-.72)(-1.05,-.47)(-.98,-.55)(-.85,-.8)(-.72,-.8)(-.65,-.8)(-.55,-.78)(-.65,-.92)(-.58,-.95)(-.39,-1.1)(-.7,-1.2)(-.82,-1.25)(-.65,-1.4)(-.42,-1.45)(-.42,-1.48)(-.97,-1.47)(-.9,-1.47)(-.82,-1.47)(-.75,-1.55)(-.68,-1.52)(-.95,-1.75)(-.75,-1.75)(-.83,-1.9)(-.78,-1.9)(-.7,-1.88)(-.73,-1.98)(-.9,-2.02)(-.7,-2.07)(-.85,-2.17)(-.4,-2.47)};
\legend{Curve 5,Curve 6,Curve 9}
\end{axis}
\ttl{2944}{1160}{D16}

\node[font=\fontsize{23}{23}\selectfont] at ({2029*0.25pt},{(4570-2180)*0.25pt}) {(\textbf{a}) Extreme small radius curves};

% row 3
\begin{axis}[panel={23}{2348}{1120}{3306}{572}{2758}{136.5},lg={828}{2378}]
\base{16}{−}{0.37}
\addplot[forget plot,only marks,mark=*,mark size=0.35pt,black] coordinates {(1.81,1.63)};
\addplot[bk] coordinates {(-.7,1.85)(-.62,1.38)(-.6,1.15)(-.78,1.1)(-.63,1.03)(-1.9,.8)(-1.68,.78)(-1.6,.77)(-1.41,.79)(-1.42,.7)(-1.83,.63)(-.94,.58)(-1.98,.5)(-1.88,.5)(-1.5,.62)(-2.22,.48)(-2.3,.4)(-2.35,.43)(-2.49,.41)(-2.08,.35)(-1.85,.35)(-1.5,.4)(-2.6,.2)(-2.53,.25)(-1.88,.25)(-1.75,.22)(-1.65,.18)(-1.45,.15)(-2.45,.08)(-2.3,.0)(-2.45,.02)(-2.72,.05)(-2.78,.01)(-2.63,-.02)(-2.52,-.03)(-1.85,.1)(-1.72,.05)(-1.55,.05)(-2.75,-.12)(-2.65,-.15)(-2.55,-.13)(-2.45,-.18)(-2.25,-.13)(-2.1,-.1)(-1.9,-.12)(-1.8,-.08)(-1.65,-.1)(-2.72,-.32)(-2.6,-.3)(-2.5,-.25)(-2.35,-.35)(-2.12,-.2)(-2,-.28)(-1.85,-.3)(-1.7,-.25)(-1.6,-.3)(-2.8,-.47)(-2.65,-.42)(-2.55,-.38)(-2.45,-.45)(-2.25,-.45)(-2.15,-.38)(-2,-.5)(-1.9,-.55)(-1.75,-.4)(-1.65,-.42)(-1.45,-.45)(-1.25,-.3)(-1.12,-.35)(-2.7,-.52)(-2.6,-.52)(-2.4,-.55)(-2.3,-.6)(-2.1,-.52)(-2,-.65)(-1.7,-.6)(-1.6,-.62)(-1.4,-.5)(-1.3,-.5)(-2.8,-.72)(-2.6,-.68)(-2.45,-.68)(-2.25,-.72)(-2.1,-.7)(-1.98,-.72)(-1.85,-.75)(-1.65,-.78)(-1.55,-.68)(-1.4,-.7)(-1.3,-.75)(-2.75,-.82)(-2.62,-.82)(-2.45,-.8)(-2.3,-.85)(-2.1,-.82)(-2,-.85)(-1.8,-.75)(-1.72,-.88)(-1.35,-.85)(-1.2,-.85)(-.92,-.72)(-.6,-.75)(-.5,-.74)(-2.7,-.95)(-2.55,-.98)(-2.35,-.92)(-2.2,-.95)(-2.05,-1)(-1.85,-.97)(-1.6,-1.05)(-1.5,-1)(-1.35,-.98)(-1.25,-.95)(-1.15,-.92)(-2.55,-1.1)(-2.4,-1.05)(-2.25,-1.1)(-2.1,-1.1)(-1.98,-1.12)(-1.75,-1.15)(-1.6,-1.12)(-1.3,-1.15)(-1.25,-1.2)(-.65,-1.32)(-2.35,-1.2)(-2.2,-1.2)(-2.05,-1.22)(-1.9,-1.25)(-1.7,-1.25)(-1.45,-1.25)(-1.25,-1.3)(-1.15,-1.32)(-.55,-1.35)(-2.35,-1.32)(-2.25,-1.4)(-2.1,-1.4)(-1.7,-1.35)(-1.42,-1.45)(-.95,-1.52)(-2.15,-1.5)(-2.05,-1.55)(-1.95,-1.5)(-1.6,-1.55)(-1.55,-1.58)(-.75,-1.57)(-2.38,-1.63)(-2.3,-1.62)(-1.95,-1.7)(-1.85,-1.68)(-1.6,-1.67)(-1.45,-1.68)(-1.3,-1.67)(-1.1,-1.7)(-1,-1.72)(-.85,-1.72)(-2,-1.75)(-2.05,-2.35)(-2.25,-2.48)(-2.42,-3.03)(-2.35,-3.04)(-1.12,-3.25)(-1.5,-3.7)};
\addplot[rd] coordinates {(-.36,1.22)(-.9,1.07)(-.85,1.05)(-.4,.95)(-.42,.88)(-1.33,.89)(-.3,.88)(-1.2,.82)(-1.12,.82)(-1,.88)(-.95,.85)(-.85,.82)(-.75,.82)(-.55,.82)(-.48,.82)(-.25,.85)(-.22,.8)(-1.25,.72)(-1.1,.7)(-.85,.72)(-.7,.7)(-.55,.72)(-.25,.67)(-1.8,.6)(-1.45,.58)(-1.6,.55)(-1,.55)(-.95,.52)(-.75,.55)(-.65,.55)(-.55,.52)(-1.75,.47)(-1.85,.42)(-1.5,.45)(-1.4,.42)(-1.2,.45)(-.85,.45)(-.7,.42)(-.6,.42)(-.5,.4)(-.38,.35)(-1.65,.32)(-1.45,.35)(-1.3,.3)(-1.2,.33)(-1.05,.33)(-.95,.3)(-.8,.3)(-.65,.28)(-.5,.3)(-.4,.25)(-.2,.22)(-.15,.22)(-1.68,.18)(-1.5,.15)(-1.35,.18)(-1.25,.2)(-1.15,.15)(-1,.12)(-.9,.15)(-.75,.18)(-.62,.2)(-.5,.18)(-.4,.12)(-.1,.12)(-1.3,.08)(-1.2,.05)(-.9,.05)(-.7,.05)(-.55,.05)(-.45,0)(-.2,0)(-1.8,-.02)(-1.95,-.02)(-1.55,-.1)(-1.45,-.18)(-1.1,-.1)(-.95,-.13)(-.78,-.1)(-.65,-.08)(-.55,-.1)(-.25,-.1)(-.13,-.07)(-1.72,-.25)(-1.6,-.22)(-1,-.27)(-.85,-.27)(-.7,-.22)(-.6,-.2)(-.5,-.25)(-.9,-.35)(-.75,-.35)(-.65,-.3)(-2.25,-.33)(-1.35,-.43)(-1.25,-.38)(-.9,-.43)(-.3,-.37)(-.55,-.45)(-.45,-.45)(-1.15,-.45)(-1.65,-.55)(-.8,-.55)(-.75,-.55)(-.5,-.55)(-.45,-.6)(-.55,-.65)(-.7,-.72)(-1.16,-.72)(-1,-.78)(-.85,-.72)(-1.4,-.88)(-1.05,-.85)(-.7,-.8)(-.7,-.9)(-.95,-.93)(-.8,-.98)(-.95,-1.03)(-.85,-1.1)(-.8,-1.12)(-.45,-1.07)(-.65,-1.3)(-.7,-1.36)(-.97,-1.33)(-.7,-1.42)(-.68,-1.66)};
\legend{Curve 4,Curve 12}
\end{axis}
\ttl{37}{2386}{D6}

\begin{axis}[panel={1479}{2348}{2576}{3306}{2028}{2759}{136},lg={2277}{2375}]
\base{16}{−}{0.37}
\addplot[bk] coordinates {(-2.83,.73)(-2.83,.17)(-2,.72)(-1.97,.65)(-2.03,.6)(-2.05,.58)(-1.85,.58)(-1.2,.45)(-.9,.33)(-1.8,.3)(-1.95,.25)(-1.85,.2)(-.65,.15)(-2.1,.08)(-2,.05)(-1.85,.05)(-1.7,.2)(-2.1,-.1)(-2.05,-.13)(-1.95,-.1)(-2.55,-.1)(-2.35,-.23)(-2.15,-.2)(-2.05,-.2)(-1.92,-.3)(-2.2,-.35)(-2.1,-.35)(-1.95,-.4)(-1.8,-.35)(-1.7,-.4)(-2.15,-.5)(-2.05,-.5)(-1.9,-.5)(-1.7,-.48)(-1.55,-.45)(-2.2,-.6)(-2.05,-.6)(-1.85,-.58)(-1.75,-.55)(-1.65,-.55)(-1.55,-.55)(-1.45,-.52)(-2.48,-.67)(-2.42,-.6)(-2.3,-.7)(-2.1,-.7)(-1.95,-.68)(-1.75,-.65)(-1.65,-.65)(-1.45,-.65)(-1.35,-.6)(-2.42,-.8)(-2.35,-.8)(-2.25,-.8)(-2.15,-.8)(-2,-.78)(-1.9,-.78)(-1.75,-.75)(-1.65,-.75)(-1.55,-.75)(-1.4,-.75)(-1.2,-.72)(-1.05,-.72)(-.95,-.72)(-2.32,-.9)(-2.2,-.9)(-2,-.9)(-1.8,-.85)(-1.7,-.85)(-1.6,-.85)(-1.5,-.87)(-1.3,-.82)(-1.2,-.82)(-1.05,-.82)(-.95,-.85)(-2.3,-.98)(-2.2,-1)(-2.05,-.98)(-1.9,-.97)(-1.8,-.95)(-1.7,-.95)(-1.6,-.97)(-1.5,-.98)(-1.1,-.95)(-1,-.95)(-2.18,-1.1)(-2.05,-1.08)(-1.85,-1.1)(-1.7,-1.05)(-1.6,-1.08)(-1.45,-1.1)(-1.3,-1.07)(-1.1,-1.1)(-.98,-1.1)(-.57,-1.13)(-2.18,-1.2)(-2.12,-1.2)(-1.65,-1.15)(-1.55,-1.2)(-1.4,-1.15)(-1.25,-1.13)(-1.15,-1.2)(-1,-1.2)(-2.62,-1.27)(-1.95,-1.28)(-1.75,-1.27)(-1.7,-1.35)(-1.6,-1.3)(-1.45,-1.25)(-1.28,-1.35)(-1.1,-1.3)(-2.3,-1.38)(-2.27,-1.45)(-1.85,-1.42)(-1.65,-1.4)(-1.57,-1.42)(-1.15,-1.4)(-2.1,-1.52)(-1.97,-1.52)(-1.82,-1.48)(-1,-1.58)(-2.3,-1.6)(-1.08,-1.65)(-2.35,-1.78)(-.8,-1.75)(-.85,-1.88)(-1.98,-1.93)(-.9,-2.1)(-.98,-2.47)(-1.08,-2.8)(-.98,-2.75)};
\addplot[rd] coordinates {(-2.72,.9)(-1.52,.9)(-1.47,.92)(-1.9,.85)(-1.78,.82)(-1.3,.82)(-2.03,.78)(-1.85,.75)(-1.6,.73)(-1.3,.72)(-2.5,.7)(-1.5,.68)(-2.55,.55)(-1.95,.55)(-1.48,.52)(-1.35,.52)(-1.25,.42)(-1.22,.42)(-.62,.38)(-2.3,.38)(-1.95,.38)(-2.2,.35)(-2.1,.33)(-1.55,.42)(-2.45,.28)(-2.7,.26)(-2.28,.25)(-2.2,.25)(-1.65,.25)(-1.35,.27)(-1.05,.3)(-.97,.28)(-.9,.3)(-.1,.3)(-.23,.25)(-.78,.22)(-.65,.18)(-2.58,.15)(-1.55,.15)(-1.45,.15)(-1.27,.15)(-1.1,.15)(-.75,.15)(-.55,.15)(-.3,.15)(-2.4,.1)(-2.35,.1)(-1.8,.05)(-1.6,.1)(-1.5,.05)(-1.4,.1)(-1.1,.05)(-.95,.1)(-.8,.05)(-.6,.05)(-.45,.1)(-.25,.08)(-.4,.04)(-1.82,.0)(-1.65,-.02)(-1.5,-.02)(-1.25,-.03)(-1.15,0)(-1,0)(-.85,0)(-.7,0)(-.55,0)(-.45,.02)(-2.72,-.08)(-1.95,-.17)(-1.55,-.15)(-1.42,-.12)(-1.2,-.1)(-1.1,-.12)(-.95,-.12)(-.8,-.1)(-.65,-.1)(-.5,-.1)(-.3,-.1)(-.15,-.08)(-2.2,-.2)(-2.1,-.27)(-1.75,-.3)(-1.6,-.27)(-1.45,-.27)(-1.25,-.2)(-1.1,-.2)(-.95,-.22)(-.85,-.2)(-.7,-.2)(-.55,-.2)(-.35,-.2)(-.2,-.2)(-2.52,-.3)(-2,-.35)(-1.85,-.32)(-1.25,-.3)(-1.15,-.3)(-1,-.32)(-.85,-.3)(-.65,-.3)(-.4,-.3)(-.25,-.3)(-.03,-.25)(-1.97,-.47)(-1.2,-.42)(-1.05,-.42)(-.9,-.4)(-.6,-.4)(-.45,-.42)(-.35,-.42)(-.12,-.37)(-2.2,-.6)(-1.45,-.65)(-1.35,-.62)(-1.2,-.53)(-.5,-.55)(-.35,-.55)(-.32,-.62)(-1.15,-.6)(-.7,-.7)(-.58,-.72)(-.45,-.78)(-.75,-.78)(-.85,-.8)(-1.3,-.85)(-1.18,-.88)(-1.05,-.88)(-.85,-.9)(-.7,-.85)(-1.3,-.95)(-.85,-1)(-.65,-1)(-.6,-1.08)(-.87,-1.12)(-.78,-1.12)(-.72,-1.15)(-.67,-1.15)(-1.1,-1.27)(-.98,-1.25)(-.85,-1.28)(-.78,-1.28)(-.6,-1.27)(-1.48,-1.28)(-1.22,-1.37)(-1.47,-1.4)(-1.4,-1.5)(-.85,-1.42)(-.78,-1.45)(-.4,-1.42)(-1.35,-1.5)(-.9,-1.47)(-.3,-1.55)(-1.23,-1.59)(-.88,-1.62)(-.12,-1.68)};
\legend{Curve 4,Curve 12}
\end{axis}
\ttl{1494}{2388}{D12}

\begin{axis}[panel={2929}{2363}{4005}{3303}{3468}{2766}{134.3},lg={3714}{2388}]
\base{16}{−}{0.37}
\addplot[bk] coordinates {(-1.25,1.28)(-.49,1.28)(-.47,1)(-1.58,.87)(-1.33,.87)(-1.15,.65)(-1.9,.72)(-1.9,.6)(-.9,.55)(-.9,.42)(-.35,.5)(-.25,.48)(-2.37,.37)(-2.25,.25)(-2.42,.15)(-2.3,.13)(-1.95,.3)(-.4,.25)(-.32,.22)(-.85,.2)(-2.57,.0)(-1.82,-.02)(-1.78,-.1)(-1.9,-.12)(-1.72,-.15)(-2.4,-.25)(-2.3,-.28)(-2.2,-.25)(-1.95,-.22)(-1.3,-.15)(-1,-.25)(-.65,-.25)(-.32,-.3)(-.45,-.3)(-2.35,-.35)(-2.15,-.35)(-1.65,-.35)(-1.3,-.33)(-.8,-.4)(-2.6,-.45)(-2.5,-.45)(-2.33,-.52)(-1.85,-.45)(-1.75,-.5)(-1.68,-.42)(-.95,-.42)(-2.68,-.52)(-2.55,-.53)(-2.4,-.55)(-2.25,-.55)(-2.15,-.52)(-2,-.55)(-1.9,-.55)(-1.8,-.52)(-1.68,-.62)(-.95,-.58)(-.85,-.58)(-2.65,-.62)(-2.45,-.62)(-2.3,-.62)(-2.15,-.65)(-2,-.65)(-1.85,-.68)(-1.55,-.65)(-1.2,-.62)(-1,-.65)(-.8,-.65)(-.45,-.65)(-2.6,-.72)(-2.35,-.72)(-2.25,-.75)(-2.1,-.75)(-1.95,-.75)(-1.75,-.75)(-1.6,-.75)(-.85,-.75)(-2.58,-.8)(-2.45,-.85)(-2.2,-.82)(-1.95,-.85)(-1.8,-.85)(-1.7,-.82)(-1.15,-.85)(-1.05,-.82)(-.7,-.8)(-2.42,-.95)(-2.2,-.98)(-1.9,-.93)(-1.8,-.95)(-1.7,-.92)(-1.55,-.9)(-1.3,-.9)(-.65,-1)(-.55,-.95)(-2.65,-1.03)(-2.57,-1.03)(-2.4,-1.05)(-2.25,-1.03)(-2.1,-1.03)(-1.95,-1.05)(-1.78,-1.05)(-1.6,-1.05)(-1.4,-1.05)(-1.3,-1.05)(-1.15,-1.03)(-.62,-1.05)(-2.35,-1.15)(-2.1,-1.15)(-1.95,-1.15)(-1.85,-1.15)(-1.75,-1.12)(-1.55,-1.12)(-1.45,-1.12)(-1.1,-1.15)(-1,-1.13)(-2.35,-1.28)(-2.22,-1.25)(-1.75,-1.28)(-1.6,-1.25)(-1.05,-1.22)(-1,-1.25)(-2.45,-1.35)(-2.3,-1.35)(-2.15,-1.35)(-1.9,-1.37)(-1.68,-1.35)(-1.55,-1.35)(-1.3,-1.28)(-1.25,-1.35)(-2.68,-1.42)(-2.35,-1.43)(-2.25,-1.45)(-2,-1.48)(-1.82,-1.48)(-1.68,-1.42)(-.75,-1.45)(-2.62,-1.53)(-2.25,-1.52)(-1.9,-1.55)(-1.77,-1.55)(-1.68,-1.55)(-1.35,-1.52)(-1.25,-1.55)(-.98,-1.62)(-1.77,-1.72)(-1.65,-1.75)(-1.5,-1.73)(-1.45,-1.75)(-1.7,-1.85)(-1.48,-1.85)(-2.3,-1.87)(-2.25,-1.9)(-1.75,-1.92)(-1.5,-1.95)(-2.05,-2.05)(-1.9,-2.1)(-1.78,-2.13)(-2.1,-2.2)(-1.95,-2.2)(-1.7,-2.2)(-.92,-2.25)(-.88,-2.25)(-2.27,-2.3)(-1.8,-2.45)(-1.33,-2.58)(-1.9,-2.9)(-1.29,-3.03)(-.96,-3.05)};
\addplot[rd] coordinates {(-.9,1.45)(-1.62,.95)(-1.58,.97)(-1.33,.95)(-.93,.97)(-1.15,.88)(-1.05,.85)(-.45,.85)(-1.65,.75)(-1.53,.72)(-1.42,.72)(-1.12,.75)(-.82,.72)(-.75,.72)(-.7,.7)(-.23,.68)(-1.77,.65)(-1.65,.63)(-1.5,.63)(-1.3,.65)(-1.2,.62)(-.95,.6)(-.7,.6)(-.12,.65)(-1.83,.55)(-1.45,.45)(-1.38,.47)(-.77,.5)(-.67,.52)(-.45,.58)(-.35,.45)(-.28,.42)(-.18,.5)(-1.7,.35)(-1.55,.35)(-1.45,.35)(-1.25,.38)(-1.15,.38)(-1.05,.35)(-.9,.35)(-.65,.37)(-.55,.38)(-.45,.35)(-.3,.3)(-.13,.35)(-1.9,.25)(-1.75,.25)(-1.6,.25)(-1.45,.28)(-1.3,.28)(-1.15,.28)(-1,.3)(-.8,.25)(-.55,.25)(-.4,.3)(-.2,.25)(-.18,.15)(-2,.1)(-1.85,.1)(-1.65,.15)(-1.5,.15)(-1.35,.15)(-1.2,.12)(-1.05,.15)(-.85,.15)(-.7,.15)(-.55,.12)(-.4,.12)(-.28,.18)(-1.85,-.02)(-1.65,.05)(-1.5,.02)(-1.3,.03)(-1.15,.03)(-1,.02)(-.8,.05)(-.65,.05)(-.55,.02)(-.42,.02)(-.27,.05)(-1.75,-.15)(-1.6,-.12)(-1.4,-.1)(-1.25,-.08)(-1.1,-.05)(-.9,-.08)(-.75,-.08)(-.62,-.1)(-.48,-.12)(-1.85,-.2)(-1.4,-.2)(-1.25,-.2)(-1.1,-.2)(-.95,-.2)(-.8,-.2)(-.65,-.2)(-.55,-.2)(-1.55,-.32)(-1.35,-.3)(-1.15,-.3)(-1.05,-.35)(-.9,-.3)(-.75,-.3)(-.6,-.3)(-1.7,-.4)(-1.4,-.42)(-1.25,-.42)(-1,-.42)(-.8,-.45)(-.55,-.4)(-.5,-.4)(-1.55,-.52)(-1.38,-.52)(-1.22,-.52)(-.9,-.55)(-.8,-.58)(-.7,-.55)(-.6,-.55)(-.45,-.58)(-1.35,-.65)(-1.25,-.7)(-.55,-.7)(-1.3,-.78)(-1.2,-.78)(-.5,-.8)(-1,-.88)(-.55,-.93)(-.5,-.98)(-1.12,-1.03)(-1.27,-1.2)(-1.3,-1.22)(-.65,-1.32)(-1.2,-1.4)(-.75,-1.62)(-.72,-1.62)(-.95,-1.82)};
\legend{Curve 4,Curve 12}
\end{axis}
\ttl{2948}{2401}{D16}

% row 4
\begin{axis}[panel={34}{3468}{1115}{4412}{575}{3871}{134.5},lg={818}{3491}]
\base{16}{-}{0.35}
\addplot[bk] coordinates {(.9,1.41)(1.19,1.1)(1.25,1.07)(1.14,1)(1.2,.98)(.67,1)(.85,.95)(.68,.9)(1.07,.9)(.74,.85)(1.1,.85)(1.1,.8)(.5,.8)(.6,.75)(1.22,.7)(1.25,.65)(.9,.65)(.97,.62)(.45,.7)(.9,.55)(.6,.63)(.5,.65)(.55,.62)(.7,.6)(.85,.5)(.8,.48)(.9,.45)(1,.52)(1.15,.5)(.65,.55)(.2,.55)(.53,.45)(.75,.4)(.85,.42)(.95,.42)(1.1,.35)(1.3,.35)(.8,.35)(.9,.35)(1.02,.3)(1.05,.38)(.7,.3)(.75,.28)(.85,.25)(.95,.3)(1.1,.25)(1.2,.28)(1.42,.28)(1.5,.25)(.33,.2)(.38,.22)(.75,.15)(.8,.18)(.9,.2)(1,.18)(1.1,.15)(1.27,.18)(1.47,.2)(1.6,.25)(.65,.12)(.75,.05)(.85,.08)(.95,.05)(1.05,.05)(1.15,.08)(1.4,.1)(1.47,.12)(.72,-.02)(.83,0)(1.45,-.02)(1.47,-.03)(.96,-.07)(1.4,-.12)(.72,-.2)(1.35,-.2)(1.55,-.27)(.3,-.38)(.37,-.4)(.75,-.38)(.85,-.38)(.85,-.45)(1.17,-.55)(1.27,-.58)};
\addplot[rd] coordinates {(.4,.83)(.6,.8)(.64,.75)(.38,.37)(.58,.35)(.33,.35)(.1,.24)(.12,.13)(.33,.1)(.6,.2)(.6,.12)(.6,.08)(.9,.13)(.12,.02)(.2,0)(.3,-.03)(.4,-.05)(.6,-.05)(.24,-.1)(.3,-.12)(.42,-.12)(.52,-.13)(.65,-.12)(.75,-.12)(.3,-.18)(.45,-.15)(.63,-.17)(.85,-.22)(.92,-.23)(1.05,-.23)(1.18,-.23)(.3,-.32)(.47,-.35)(.55,-.32)(.6,-.33)(.78,-.35)(.3,-.4)(.55,-.4)(.85,-.42)(.95,-.45)(1,-.43)(.25,-.5)(.3,-.47)(.22,-.53)(.53,-.55)(.65,-.52)(.7,-.55)(.75,-.6)(.85,-.58)(.92,-.58)(.52,-.62)(.65,-.65)(.7,-.68)(.8,-.65)(.18,-.7)(.5,-.72)(.65,-.72)(.78,-.7)(1.18,-.72)(1.22,-.8)(.62,-.8)(.66,-.82)(.2,-.9)(.38,-.9)(.5,-.98)(.7,-.95)(.78,-.95)(.9,-.95)(.65,-1)(.85,-1.05)(1.08,-1.02)(.53,-1.1)(.93,-1.25)(1.1,-1.3)(1.1,-1.38)(.86,-1.57)(.65,-1.98)};
\legend{Curve 8,Curve 13}
\end{axis}
\ttl{52}{3507}{D6}

\begin{axis}[panel={1484}{3462}{2573}{4408}{2029}{3865}{135.4},lg={2274}{3486}]
\base{16}{−}{0.4}
\addplot[bk] coordinates {(.31,.52)(.27,.3)(.43,.33)(.5,.25)(.53,.1)(.38,.07)(.33,.07)(.6,-.02)(.68,-.05)(.7,-.07)(.3,-.12)(.24,-.14)(.18,-.18)(.14,-.25)(.18,-.3)(.57,-.17)(.62,-.2)(.75,-.22)(.88,-.3)(.5,-.28)(.6,-.3)(.65,-.32)(.7,-.38)(.37,-.33)(.33,-.38)(.6,-.4)(.65,-.42)(.72,-.45)(.78,-.5)(.2,-.56)(.36,-.55)(.44,-.6)(.68,-.57)(.55,-.72)(.66,-.7)(.17,-.73)(.15,-.8)(.19,-.78)(.5,-.78)(.6,-.82)(.8,-.8)(1.43,-.77)(.16,-.82)(.29,-.88)(.56,-.88)(.62,-.88)(.25,-.97)(.52,-1)(.74,-1.02)(.13,-1.1)(.2,-1.13)(.73,-1.1)(.95,-1.05)(.4,-1.18)(.53,-1.15)(.56,-1.18)(.71,-1.17)(.19,-1.25)(.2,-1.32)(.39,-1.37)(.25,-1.5)(.22,-1.53)(.37,-1.53)(.6,-1.53)(.42,-1.65)(.35,-1.75)(.41,-1.95)};
\addplot[rd] coordinates {(.85,1.15)(.73,1.07)(.72,1)(.98,.95)(.7,.85)(.77,.82)(.88,.82)(1,.82)(.66,.78)(.7,.77)(.75,.72)(1.22,.77)(1.1,.7)(.5,.7)(.7,.62)(.85,.6)(.65,.58)(.78,.58)(1.08,.68)(.44,.6)(.58,.6)(.9,.52)(.82,.5)(1.1,.48)(1.22,.5)(.48,.42)(.53,.42)(.67,.42)(.78,.45)(.88,.42)(.98,.42)(1.12,.42)(1.18,.42)(1.28,.42)(1.4,.45)(.45,.35)(.58,.33)(.7,.35)(.8,.33)(.95,.33)(1.08,.33)(1.22,.35)(1.42,.32)(.44,.25)(.45,.2)(.6,.25)(.7,.25)(.9,.25)(1,.25)(1.15,.28)(1.25,.2)(1.3,.22)(.55,.15)(.52,.12)(.68,.15)(.78,.15)(.95,.2)(1.05,.15)(1.15,.13)(1.2,.1)(.5,.05)(.65,.08)(.9,.12)(.95,.05)(1.05,.05)(1.1,-.02)(1.35,.1)(1.43,.07)(1.3,.02)(.98,-.05)(1.02,-.1)(.9,-.08)(1.22,-.07)(1.43,-.1)(.48,-.1)(.77,-.13)(.94,-.13)(1.1,-.15)(1.1,-.12)(1.12,-.25)};
\legend{Curve 8,Curve 13}
\end{axis}
\ttl{1503}{3495}{D12}

\begin{axis}[panel={2937}{3463}{4028}{4417}{3483}{3871}{135.8},lg={3730}{3486}]
\base{16}{−}{0.37}
\addplot[bk] coordinates {(.5,.84)(.45,.65)(.45,.25)(.42,.3)(.2,.13)(.47,.02)(.52,.03)(.37,-.05)(.12,-.07)(.3,-.08)(.42,-.12)(.35,-.22)(.45,-.25)(.55,-.25)(.48,-.3)(.28,-.25)(.38,-.35)(.42,-.33)(.2,-.38)(.25,-.42)(.43,-.42)(.67,-.38)(.73,-.35)(.73,-.4)(.5,-.53)(.55,-.55)(.2,-.62)(.7,-.48)(.68,-.6)(.75,-.58)(.85,-.62)(.14,-.65)(.25,-.65)(.27,-.7)(.52,-.65)(.57,-.72)(.02,-.76)(.23,-.82)(.3,-.82)(.05,-.92)(.22,-.9)(.4,-.92)(1.07,-.85)(1.08,-.88)(.18,-1.03)(.3,-1.05)(.34,-1.03)(.47,-1.05)(.13,-1.08)(.22,-1.1)(.65,-1.2)(.25,-1.2)(.15,-1.28)(.2,-1.37)(.39,-1.38)(.29,-1.45)(.44,-1.52)(.5,-1.52)};
\addplot[rd] coordinates {(1.33,1.6)(1.02,1.27)(1.26,1.17)(1.09,.9)(.64,.83)(.62,.78)(.55,.78)(.65,.75)(.33,.78)(.34,.72)(1.14,.77)(.85,.75)(.92,.78)(.8,.72)(.33,.7)(.45,.7)(.52,.72)(1.2,.62)(1.15,.65)(1,.7)(.6,.62)(.75,.62)(.85,.65)(.95,.6)(1.05,.6)(1.25,.6)(.35,.55)(.55,.52)(.65,.5)(.7,.55)(.85,.5)(1,.5)(1.1,.45)(1.18,.52)(1.35,.48)(.33,.42)(.3,.45)(.5,.42)(.6,.45)(.7,.42)(.9,.45)(1.05,.42)(1.15,.42)(.35,.32)(.3,.35)(.6,.35)(.68,.3)(.85,.35)(.95,.35)(1.1,.3)(1.3,.28)(1.38,.28)(.33,.28)(.4,.22)(.5,.22)(.62,.22)(.72,.2)(.82,.23)(.9,.25)(1.05,.2)(.55,.13)(.75,.15)(.85,.1)(1,.12)(1.05,.07)(.42,.12)(.98,.03)(1.25,.03)(1.3,.03)(.6,-.02)(.53,-.05)(.65,-.03)(.52,-.1)(.72,-.15)(.85,-.1)(.92,-.12)(1,-.1)(.82,-.18)(.9,-.2)(1.37,-.13)(.5,-.23)(.47,-.25)(.3,-.3)(.8,-.28)(.75,-.3)(.9,-.25)(.85,-.3)(.93,-.42)(1,-.45)(.38,-.52)(.35,-.5)};
\legend{Curve 8,Curve 13}
\end{axis}
\ttl{2954}{3503}{D16}

\node[font=\fontsize{23}{23}\selectfont] at ({2029*0.25pt},{(4570-4507)*0.25pt}) {(\textbf{b}) General small radius curves};
\end{tikzpicture}
\end{document}
